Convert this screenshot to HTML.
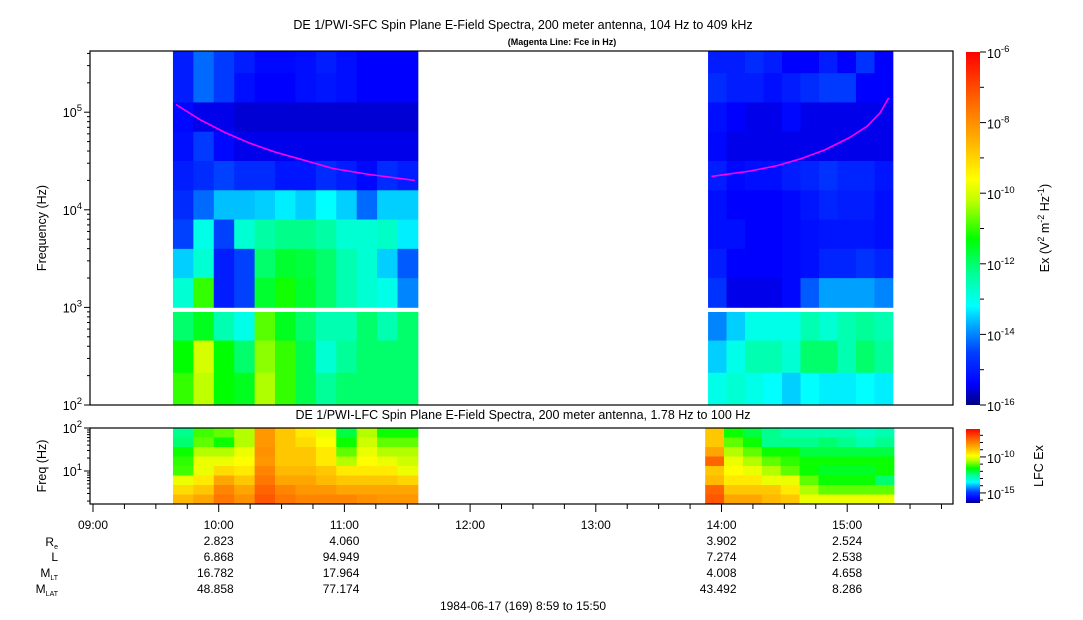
<!DOCTYPE html>
<html><head><meta charset="utf-8"><style>
html,body{margin:0;padding:0;background:#fff;}
svg{display:block;font-family:"Liberation Sans",Arial,sans-serif;}
</style></head><body>
<svg id="chart" width="1083" height="620" viewBox="0 0 1083 620">
<defs>
<linearGradient id="cbgrad" x1="0" y1="1" x2="0" y2="0">
<stop offset="0" stop-color="#000080"/><stop offset="0.06" stop-color="#0000ff"/>
<stop offset="0.15" stop-color="#0040ff"/><stop offset="0.22" stop-color="#00a0ff"/><stop offset="0.28" stop-color="#00ffff"/>
<stop offset="0.37" stop-color="#00ff99"/><stop offset="0.47" stop-color="#00ff00"/>
<stop offset="0.58" stop-color="#c0ff00"/><stop offset="0.64" stop-color="#ffff00"/>
<stop offset="0.75" stop-color="#ffb000"/><stop offset="0.87" stop-color="#ff6000"/>
<stop offset="1" stop-color="#ff0000"/>
</linearGradient>
</defs>
<g id="titles">
<text x="523" y="29" text-anchor="middle" font-size="12.5">DE 1/PWI-SFC  Spin Plane E-Field Spectra, 200 meter antenna, 104 Hz to 409 kHz</text>
<text x="562" y="45" text-anchor="middle" font-size="9" font-weight="bold">(Magenta Line: Fce in Hz)</text>
<text x="523" y="419" text-anchor="middle" font-size="12.5">DE 1/PWI-LFC  Spin Plane E-Field Spectra, 200 meter antenna, 1.78 Hz to 100 Hz</text>
<text transform="translate(46,228) rotate(-90)" text-anchor="middle" font-size="12.5">Frequency (Hz)</text>
<text transform="translate(46,466) rotate(-90)" text-anchor="middle" font-size="12.5">Freq (Hz)</text>
<text transform="translate(1049,228) rotate(-90)" text-anchor="middle" font-size="12.5">Ex (V<tspan dy="-5" font-size="9">2</tspan><tspan dy="5"> m</tspan><tspan dy="-5" font-size="9">-2</tspan><tspan dy="5"> Hz</tspan><tspan dy="-5" font-size="9">-1</tspan><tspan dy="5">)</tspan></text>
<text transform="translate(1043,466) rotate(-90)" text-anchor="middle" font-size="12.5">LFC Ex</text>
<text x="523" y="610" text-anchor="middle" font-size="12">1984-06-17 (169) 8:59 to 15:50</text>
</g>
<g id="marks"></g>
<g id="axes"></g>
</svg>
<script>
// ---------- data ----------
const sfcSeg1Times = [9.636, 11.585];
const sfcSeg2Times = [13.893, 15.364];
const lfcSeg1Times = [9.636, 11.585];
const lfcSeg2Times = [13.87, 15.372];
const sfcUpperEdges = [5.63, 5.4, 5.1, 4.8, 4.5, 4.2, 3.9, 3.6, 3.3, 3.0];
const sfcLowerEdges = [2.953, 2.66, 2.33, 2.0];
const seg1Upper = [
[-15,-14.2,-14.6,-15,-15.3,-15.3,-15.2,-15,-15.2,-15.4,-15.4,-15.4],
[-15,-14.2,-14.6,-15.2,-15.4,-15.4,-15.2,-15.1,-15.2,-15.4,-15.4,-15.4],
[-15.3,-15.5,-15.5,-15.6,-15.6,-15.6,-15.6,-15.6,-15.6,-15.6,-15.6,-15.6],
[-15.2,-14.6,-15.3,-15.5,-15.5,-15.5,-15.5,-15.5,-15.5,-15.5,-15.5,-15.5],
[-15,-14.8,-14.5,-14.8,-14.8,-15.1,-15.1,-14.8,-15,-15.3,-14.8,-15],
[-14.8,-14.2,-13.6,-13.6,-13.5,-13.3,-13.5,-13.2,-13.5,-14.2,-13.5,-13.5],
[-14.5,-13,-14.5,-12.8,-12.4,-12.2,-12.2,-12.4,-12.8,-12.8,-12.7,-13.3],
[-13.5,-12.8,-15,-14.5,-12,-11.6,-11.7,-12,-12.5,-12.8,-13.5,-14.3],
[-12.8,-11,-15,-14.5,-11.6,-11.2,-11.6,-12,-12.5,-12.8,-13,-14]];
const seg1Lower = [
[-12,-11.5,-12.5,-13,-10.8,-11.5,-12,-12.5,-12.5,-12,-12.5,-12],
[-11.3,-10,-11.3,-12,-10.5,-11,-11.8,-12.8,-12.3,-12,-12,-12],
[-11,-10.2,-11.3,-11.5,-10.3,-11,-11.8,-12.3,-12,-12,-12,-12]];
const seg2Upper = [
[-15,-15,-14.8,-15,-15.4,-15.4,-15,-15.4,-14.7,-15.4],
[-14.8,-15,-15,-15.2,-15,-14.8,-14.6,-14.6,-15.4,-15.4],
[-15.2,-15.4,-15.5,-15.5,-15.3,-15.5,-15.5,-15.5,-15.5,-15.5],
[-15.3,-15.5,-15.5,-15.5,-15.5,-15.5,-15.5,-15.5,-15.5,-15.5],
[-15,-15.3,-15.2,-15.2,-15,-14.9,-14.7,-14.9,-14.9,-15.1],
[-15.2,-15.4,-15.4,-15.4,-15.3,-15.1,-14.9,-15,-15,-15.2],
[-15.2,-15.2,-15.4,-15.4,-15.3,-15.2,-15.1,-15.1,-15.1,-15.2],
[-15,-15.4,-15.4,-15.4,-15.3,-15.2,-14.9,-14.9,-14.7,-14.9],
[-14.7,-15.5,-15.5,-15.5,-15.3,-14.3,-13.8,-13.8,-13.8,-14]];
const seg2Lower = [
[-14,-13.5,-13,-13,-13,-12.5,-12.8,-12.5,-12.3,-12.5],
[-13.5,-13,-12.5,-12.5,-12.8,-12,-12,-12.5,-12,-12.3],
[-13,-12.8,-13,-13.2,-13.5,-13.2,-13.3,-13.3,-13.2,-13.3]];
const lfcEdges = [2.0, 1.779, 1.558, 1.337, 1.116, 0.895, 0.674, 0.453, 0.233];
const lfcSeg1 = [
[-12.5,-11.2,-11,-10.5,-8.3,-9,-9.5,-10,-12,-10.5,-11.5,-11.5],
[-12.3,-11,-11.5,-10.5,-8.3,-9,-9.3,-9.8,-11.5,-10.3,-11,-11],
[-11.5,-10.5,-10.5,-10,-8.2,-9,-9,-9.5,-11,-10,-10.5,-10.5],
[-11.3,-10,-10,-9.8,-8.3,-9,-9,-9.5,-10.5,-9.8,-10,-10.3],
[-11.2,-10,-9.3,-9.5,-8,-8.8,-8.8,-9,-9.5,-9.5,-9.5,-10],
[-10,-9.5,-8.5,-9,-7.8,-8.5,-8.5,-8.8,-9,-9,-9,-9.2],
[-9.3,-9,-8,-8.5,-7.5,-8,-8.3,-8.3,-8.5,-8.5,-8.5,-8.5],
[-8.8,-8.5,-7.8,-8.2,-7.3,-7.8,-8,-8,-8,-8.2,-8.3,-8.3]];
const lfcSeg2 = [
[-9,-11.5,-12,-12.5,-12.8,-12.8,-12.8,-12.8,-13,-12.8],
[-9,-11,-11.5,-12.5,-12.5,-12.5,-12.3,-12.5,-12.8,-12.5],
[-8.5,-10.5,-11,-11.5,-11.5,-12,-12,-12,-12,-12],
[-7.5,-10,-10.5,-11,-11.3,-11.5,-11.5,-11.5,-11.5,-11.5],
[-9,-9.8,-10,-10.5,-11,-11.5,-11.8,-11.8,-11.8,-11.5],
[-8.8,-9.5,-9.5,-10,-10,-11,-11.5,-11.5,-11.5,-12.3],
[-7.5,-9,-9,-9,-9.5,-10.5,-11,-11,-11,-11],
[-7.3,-8.5,-8.5,-8.8,-9,-10,-10,-10,-10,-10]];
const fceTimes1 = [9.66, 9.85, 10.05, 10.25, 10.45, 10.65, 10.91, 11.2, 11.56];
const fceValues1 = [120000, 84000, 62000, 48000, 39000, 33000, 26500, 23000, 20000];
const fceTimes2 = [13.92, 14.23, 14.45, 14.62, 14.82, 15.02, 15.16, 15.26, 15.33];
const fceValues2 = [22000, 25000, 28500, 33000, 41000, 55000, 72000, 98000, 140000];
const timeTickLabels = ["09:00","10:00","11:00","12:00","13:00","14:00","15:00"];
const timeTickHours = [9,10,11,12,13,14,15];
const ephemHours = [10,11,14,15];
const ephemRe = ["2.823","4.060","3.902","2.524"];
const ephemL = ["6.868","94.949","7.274","2.538"];
const ephemMLT = ["16.782","17.964","4.008","4.658"];
const ephemMLAT = ["48.858","77.174","43.492","8.286"];

// ---------- scales ----------
const NS = 'http://www.w3.org/2000/svg';
const X0 = 90, X1 = 953;
const xT = t => 93 + (t - 9) * 125.7;
const ySFC = lf => 405 - (lf - 2) * 97.6;
const yLFC = lf => 471 - (lf - 1) * 43;
const stops = [[0,[0,0,128]],[0.06,[0,0,255]],[0.15,[0,64,255]],[0.22,[0,160,255]],[0.28,[0,255,255]],[0.37,[0,255,153]],[0.47,[0,255,0]],[0.58,[192,255,0]],[0.64,[255,255,0]],[0.75,[255,176,0]],[0.87,[255,96,0]],[1,[255,0,0]]];
function cmap(v){ v=Math.max(0,Math.min(1,v));
  for(let i=1;i<stops.length;i++){ if(v<=stops[i][0]){ const a=stops[i-1],b=stops[i],f=(v-a[0])/(b[0]-a[0]);
    return 'rgb('+a[1].map((c,k)=>Math.round(c+(b[1][k]-c)*f)).join(',')+')'; } }
  return 'rgb(255,0,0)'; }
const sfcNorm = e => (e + 16) / 10;
const lfcNorm = e => (e + 16.4) / 10.3;
const marks = document.getElementById('marks');
const axes = document.getElementById('axes');
function mk(tag, attrs, parent){ const el=document.createElementNS(NS,tag); for(const k in attrs) el.setAttribute(k,attrs[k]); (parent||marks).appendChild(el); return el; }

function drawGrid(grid, times, edges, yScale, norm, name){
  const nc = grid[0].length, dt = (times[1]-times[0])/nc;
  grid.forEach((row, r) => row.forEach((val, c) => {
    const xa = xT(times[0] + c*dt), xb = xT(times[0] + (c+1)*dt);
    const ya = yScale(edges[r]), yb = yScale(edges[r+1]);
    const el = mk('rect', {x:xa.toFixed(2), y:ya.toFixed(2), width:(xb-xa+0.4).toFixed(2), height:(yb-ya+0.4).toFixed(2), fill:cmap(norm(val))});
    
    
  }));
}
drawGrid(seg1Upper, sfcSeg1Times, sfcUpperEdges, ySFC, sfcNorm, 'sfc-seg1-high');
drawGrid(seg1Lower, sfcSeg1Times, sfcLowerEdges, ySFC, sfcNorm, 'sfc-seg1-low');
drawGrid(seg2Upper, sfcSeg2Times, sfcUpperEdges, ySFC, sfcNorm, 'sfc-seg2-high');
drawGrid(seg2Lower, sfcSeg2Times, sfcLowerEdges, ySFC, sfcNorm, 'sfc-seg2-low');
drawGrid(lfcSeg1, lfcSeg1Times, lfcEdges, yLFC, lfcNorm, 'lfc-seg1');
drawGrid(lfcSeg2, lfcSeg2Times, lfcEdges, yLFC, lfcNorm, 'lfc-seg2');

function fceLine(ts, vs, name){
  const pts = ts.map((t,i)=> xT(t).toFixed(1)+','+ySFC(Math.log10(vs[i])).toFixed(1)).join(' ');
  const el = mk('polyline', {points:pts, fill:'none', stroke:'#ff00ff', 'stroke-width':1.6, 'stroke-linejoin':'round'});
  
  
}
fceLine(fceTimes1, fceValues1, 'fce-line-seg1');
fceLine(fceTimes2, fceValues2, 'fce-line-seg2');

// ---------- axes ----------
function txt(x,y,s,attrs,name){ const el=mk('text',Object.assign({x:x,y:y,'font-size':12.5},attrs||{}),axes); el.innerHTML=s;
    return el; }
let el;
el = mk('rect',{x:X0,y:51,width:X1-X0,height:354,fill:'none',stroke:'#000','stroke-width':1.2},axes);
 
el = mk('rect',{x:X0,y:428,width:X1-X0,height:76,fill:'none',stroke:'#000','stroke-width':1.2},axes);
 
for(let d=2; d<=5; d++){
  for(let m=1; m<10; m++){ const lf=d+Math.log10(m); if(lf>5.63) break;
    const y=ySFC(lf); const len = m===1?6:3;
    el = mk('line',{x1:X0-len,x2:X0,y1:y,y2:y,stroke:'#000'},axes);
      }
  txt(X0-8, ySFC(d)+5, '10<tspan dy="-6" font-size="9.5">'+d+'</tspan>', {'text-anchor':'end'}, 'sfc-y-tick-label');
}
for(let d=0; d<=2; d++){
  for(let m=1; m<10; m++){ const lf=d+Math.log10(m); if(lf>2.001||lf<0.233) continue;
    const y=yLFC(lf); const len = m===1?6:3;
    el = mk('line',{x1:X0-len,x2:X0,y1:y,y2:y,stroke:'#000'},axes);
      }
}
txt(X0-8, yLFC(2)+5, '10<tspan dy="-6" font-size="9.5">2</tspan>', {'text-anchor':'end'}, 'lfc-y-tick-label');
txt(X0-8, yLFC(1)+5, '10<tspan dy="-6" font-size="9.5">1</tspan>', {'text-anchor':'end'}, 'lfc-y-tick-label');
for(let q=0; q<=27; q++){ const t=9+q*0.25; const x=xT(t); if(x>X1) break;
  el = mk('line',{x1:x,x2:x,y1:504,y2:q%4===0?512:509,stroke:'#000'},axes);
    }
timeTickLabels.forEach((s,i)=> txt(xT(timeTickHours[i]), 529, s, {'text-anchor':'middle','font-size':12}, 'time-tick-label'));
txt(58,546,'R<tspan dy="3" font-size="7">e</tspan>',{'text-anchor':'end','font-size':12},'re-row-label');
txt(58,561,'L',{'text-anchor':'end','font-size':12},'l-row-label');
txt(58,577,'M<tspan dy="3" font-size="7">LT</tspan>',{'text-anchor':'end','font-size':12},'mlt-row-label');
txt(58,593,'M<tspan dy="3" font-size="7">LAT</tspan>',{'text-anchor':'end','font-size':12},'mlat-row-label');
[ephemRe, ephemL, ephemMLT, ephemMLAT].forEach((arr, r) => arr.forEach((s,i)=>
  txt(xT(ephemHours[i])+15, 545+r*16, s, {'text-anchor':'end','font-size':12}, 'ephemeris-value')));
el = mk('rect',{x:966,y:52,width:14,height:353,fill:'url(#cbgrad)'},axes);
 
el = mk('rect',{x:966,y:429,width:14,height:74,fill:'url(#cbgrad)'},axes);
 
for(let e=-16; e<=-6; e++){ const y=405-(e+16)*35.3;
  el = mk('line',{x1:980,x2:e%2===0?986:984,y1:y,y2:y,stroke:'#000'},axes);
   
  if(e%2===0) txt(987, y+6, '10<tspan dy="-6" font-size="9.5">'+e+'</tspan>', {}, 'colorbar-tick-label'); }
for(let e=-16; e<=-7; e++){ const y=503-(e+16.4)*7.2;
  el = mk('line',{x1:980,x2:(e===-10||e===-15)?986:983,y1:y,y2:y,stroke:'#000'},axes);
   
  if(e===-10||e===-15) txt(987, y+6, '10<tspan dy="-6" font-size="9.5">'+e+'</tspan>', {}, 'lfc-colorbar-tick-label'); }
</script>
</body></html>
